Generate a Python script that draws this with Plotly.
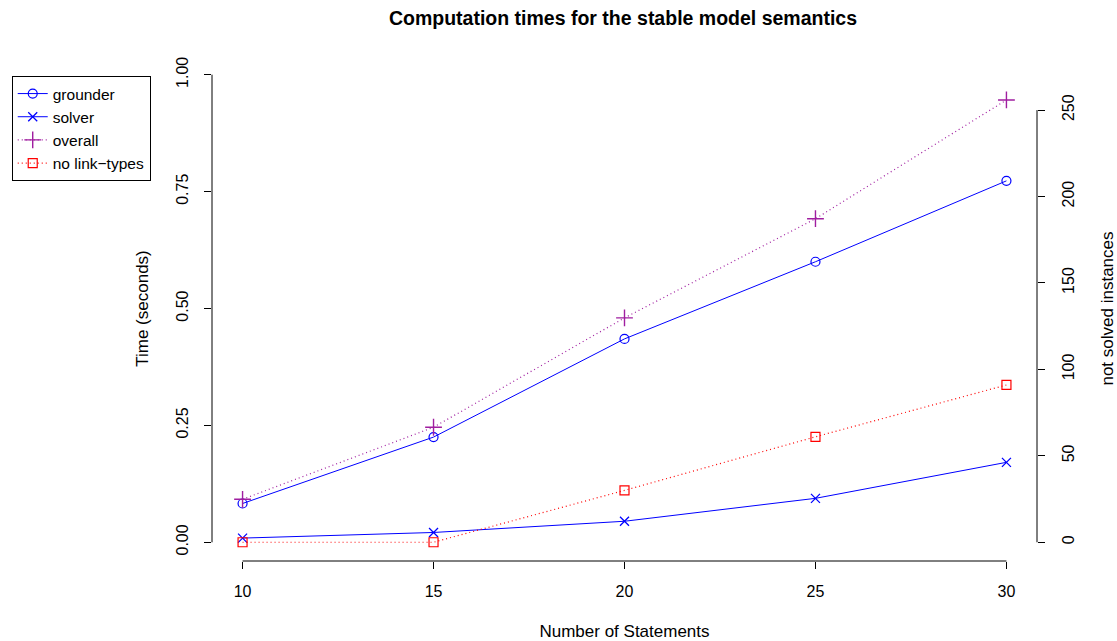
import plotly.graph_objects as go

statements = [10, 15, 20, 25, 30]
grounder = [0.083, 0.225, 0.435, 0.600, 0.773]
solver = [0.009, 0.021, 0.045, 0.094, 0.171]
overall = [0.092, 0.246, 0.480, 0.692, 0.946]
no_link_types = [0, 0, 30, 61, 91]

x_ticks = [10, 15, 20, 25, 30]
y_ticks = [0.0, 0.25, 0.5, 0.75, 1.0]
y_tick_text = ["0.00", "0.25", "0.50", "0.75", "1.00"]
y2_ticks = [0, 50, 100, 150, 200, 250]

BLUE = "#0000FF"
PURPLE = "#A01EA0"
RED = "#FF0000"
FONT = "Liberation Sans, Arial, sans-serif"
DOT = "1px,3px"

fig = go.Figure()
fig.add_trace(go.Scatter(x=statements, y=grounder, name="grounder", mode="lines+markers",
                         line=dict(color=BLUE, width=1),
                         marker=dict(symbol="circle-open", size=9, color=BLUE, line=dict(width=1.2))))
fig.add_trace(go.Scatter(x=statements, y=solver, name="solver", mode="lines+markers",
                         line=dict(color=BLUE, width=1),
                         marker=dict(symbol="x-thin-open", size=9, color=BLUE, line=dict(width=1.3))))
fig.add_trace(go.Scatter(x=statements, y=overall, name="overall", mode="lines+markers",
                         line=dict(color=PURPLE, width=1.2, dash=DOT),
                         marker=dict(symbol="cross-thin-open", size=12, color=PURPLE, line=dict(width=1.4))))
fig.add_trace(go.Scatter(x=statements, y=no_link_types, name="no link\u2212types", mode="lines+markers",
                         yaxis="y2",
                         line=dict(color=RED, width=1.2, dash=DOT),
                         marker=dict(symbol="square-open", size=9, color=RED, line=dict(width=1.2))))

# R-style axis lines spanning only the tick range
fig.add_shape(type="line", xref="x", yref="paper", x0=10, x1=30, y0=0, y1=0,
              line=dict(color="black", width=1))
fig.add_shape(type="line", xref="paper", yref="y", x0=0, x1=0, y0=0, y1=1,
              line=dict(color="black", width=1))
fig.add_shape(type="line", xref="paper", yref="y2", x0=1, x1=1, y0=0, y1=250,
              line=dict(color="black", width=1))

TICKFONT = dict(family=FONT, size=16, color="black")

fig.update_layout(
    width=1117, height=641,
    margin=dict(l=209, r=80, t=56, b=80),
    paper_bgcolor="white", plot_bgcolor="white",
    font=dict(family=FONT, size=14, color="black"),
    title=dict(text="<b>Computation times for the stable model semantics</b>",
               x=623 / 1117, xanchor="center", y=1 - 18 / 641, yanchor="middle",
               font=dict(size=19.5)),
    xaxis=dict(range=[9.2, 30.8], tickvals=x_ticks, ticks="outside", ticklen=7,
               tickcolor="black", showgrid=False, zeroline=False, showline=False,
               ticklabelstandoff=9, tickfont=TICKFONT, automargin=False,
               title=dict(text="Number of Statements", standoff=30)),
    yaxis=dict(range=[-0.04, 1.04], tickvals=y_ticks, ticktext=y_tick_text,
               ticks="outside", ticklen=7, tickcolor="black", tickangle=-90,
               showgrid=False, zeroline=False, showline=False, ticklabelstandoff=10,
               tickfont=TICKFONT, automargin=False,
               title=dict(text="Time (seconds)", standoff=20)),
    yaxis2=dict(range=[-10.85, 281.3], tickvals=y2_ticks, overlaying="y", side="right",
                ticks="outside", ticklen=7, tickcolor="black", tickangle=-90,
                showgrid=False, zeroline=False, showline=False, ticklabelstandoff=10,
                tickfont=TICKFONT, automargin=False,
                title=dict(text="not solved instances", standoff=28)),
    legend=dict(x=(8 - 209) / 828, y=(561 - 76) / 505, xanchor="left", yanchor="top",
                bgcolor="white", bordercolor="black", borderwidth=1,
                font=dict(size=15.5), tracegroupgap=0, itemwidth=30),
    showlegend=True,
)

fig.write_html("out.html")
